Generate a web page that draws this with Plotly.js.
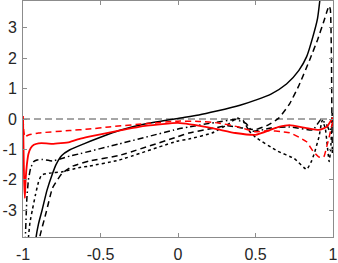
<!DOCTYPE html>
<html>
<head>
<meta charset="utf-8">
<script src="https://cdn.plot.ly/plotly-3.0.1.min.js"></script>
<style>html,body{margin:0;padding:0;background:#fff;}#chart{width:338px;height:263px;}</style>
</head>
<body>
<div id="chart"></div>
<script>
// Tick values / labels
const xTickVals = [-1, -0.5, 0, 0.5, 1];
const xTickText = ['-1', '-0.5', '0', '0.5', '1'];
const yTickVals = [-3, -2, -1, 0, 1, 2, 3];
const yTickText = ['-3', '-2', '-1', '0', '1', '2', '3'];

// Black solid
const xBlackSolid = [-0.925, -0.916, -0.9, -0.877, -0.845, -0.81, -0.787, -0.75, -0.7, -0.6, -0.5, -0.38, -0.2, 0, 0.135, 0.25, 0.4, 0.5, 0.6, 0.7, 0.78, 0.83, 0.87, 0.9, 0.915, 0.925];
const yBlackSolid = [-4.5, -3.9, -3.45, -3.0, -2.34, -1.8, -1.5, -1.2, -1.02, -0.8, -0.6, -0.38, -0.15, 0.02, 0.13, 0.26, 0.45, 0.62, 0.82, 1.15, 1.6, 2.05, 2.7, 3.3, 3.9, 4.4];

// Black dashed
const xBlackDash = [-0.905, -0.893, -0.85, -0.81, -0.75, -0.68, -0.574, -0.38, 0, 0.07, 0.2, 0.32, 0.42, 0.5, 0.58, 0.65, 0.72, 0.78, 0.85, 0.9, 0.94, 0.965, 0.975, 0.983, 0.99, 0.993, 0.996];
const yBlackDash = [-4.5, -3.9, -3.06, -2.27, -1.8, -1.55, -1.38, -1.2, -0.58, -0.46, -0.33, -0.22, -0.3, -0.35, -0.2, 0.03, 0.5, 1.1, 1.95, 2.6, 3.2, 3.6, 3.72, 3.6, 2.0, 0.0, -1.2];

// Black dash-dot
const xBlackDashDot = [-0.992, -0.985, -0.975, -0.965, -0.95, -0.93, -0.91, -0.88, -0.81, -0.75, -0.7, -0.64, -0.38, 0, 0.07, 0.22, 0.37, 0.44, 0.48, 0.6, 0.72, 0.87, 0.92, 0.955, 0.98, 1.0];
const yBlackDashDot = [-4.5, -3.9, -2.6, -2.0, -1.6, -1.4, -1.35, -1.33, -1.38, -1.3, -1.22, -1.15, -0.82, -0.33, -0.26, -0.13, -0.02, -0.15, -0.4, -0.3, -0.26, -0.36, -0.03, -0.15, -0.4, -0.1];

// Black dotted
const xBlackDot = [-0.972, -0.965, -0.955, -0.94, -0.92, -0.9, -0.88, -0.83, -0.75, -0.64, -0.574, -0.38, 0, 0.07, 0.22, 0.33, 0.38, 0.42, 0.46, 0.5, 0.64, 0.75, 0.83, 0.86, 0.88, 0.91, 0.93, 0.95, 0.975, 0.985, 0.995];
const yBlackDot = [-4.5, -3.9, -3.4, -3.0, -2.5, -2.07, -1.84, -1.78, -1.74, -1.6, -1.55, -1.35, -0.72, -0.66, -0.46, -0.15, 0.03, -0.05, -0.4, -0.6, -1.05, -1.3, -1.66, -1.4, -1.12, -0.58, -0.05, -0.3, -1.4, -1.0, 0.2];

// Red solid
const xRedSolid = [-1.0, -0.997, -0.993, -0.988, -0.983, -0.975, -0.965, -0.95, -0.93, -0.9, -0.85, -0.81, -0.7, -0.64, -0.574, -0.38, -0.2, 0, 0.22, 0.37, 0.5, 0.6, 0.65, 0.72, 0.83, 0.91, 0.96, 0.99, 1.0];
const yRedSolid = [0.1, -0.8, -2.0, -2.6, -2.0, -1.5, -1.15, -0.95, -0.85, -0.8, -0.8, -0.82, -0.76, -0.66, -0.58, -0.38, -0.22, -0.13, -0.3, -0.46, -0.52, -0.35, -0.26, -0.2, -0.3, -0.36, -0.26, -0.03, 0.05];

// Red dashed
const xRedDash = [-1.0, -0.995, -0.988, -0.975, -0.96, -0.9, -0.7, -0.574, -0.445, -0.2, 0, 0.135, 0.26, 0.39, 0.5, 0.59, 0.67, 0.72, 0.78, 0.83, 0.87, 0.91, 0.94, 0.96, 0.975, 0.99, 1.0];
const yRedDash = [0.0, -0.4, -0.6, -0.55, -0.52, -0.46, -0.38, -0.33, -0.26, -0.15, -0.07, -0.08, -0.13, -0.26, -0.42, -0.38, -0.42, -0.45, -0.6, -0.75, -1.05, -1.25, -1.25, -0.9, -0.6, -0.26, -0.1];

// Zero reference line
const xZero = [-1, 1];
const yZero = [0, 0];

const traces = [
  {x: xZero, y: yZero, mode: 'lines', line: {color: '#4d4d4d', width: 1, dash: '7px,4px'}},
  {x: xBlackDot, y: yBlackDot, mode: 'lines', line: {color: '#000', width: 1.5, dash: 'dot', shape: 'spline', smoothing: 0.4}},
  {x: xBlackDashDot, y: yBlackDashDot, mode: 'lines', line: {color: '#000', width: 1.5, dash: '6px,3px,1.5px,3px', shape: 'spline', smoothing: 0.4}},
  {x: xBlackDash, y: yBlackDash, mode: 'lines', line: {color: '#000', width: 1.5, dash: '6px,4px', shape: 'spline', smoothing: 0.4}},
  {x: xBlackSolid, y: yBlackSolid, mode: 'lines', line: {color: '#000', width: 1.5, shape: 'spline', smoothing: 0.6}},
  {x: xRedDash, y: yRedDash, mode: 'lines', line: {color: '#ff0000', width: 1.5, dash: '6px,4px', shape: 'spline', smoothing: 0.4}},
  {x: xRedSolid, y: yRedSolid, mode: 'lines', line: {color: '#ff0000', width: 1.8, shape: 'spline', smoothing: 0.4}}
];

const axisCommon = {
  showgrid: false, zeroline: false, showline: true, mirror: 'ticks',
  linecolor: '#8c8c8c', linewidth: 1,
  ticks: 'inside', ticklen: 4, tickcolor: '#8c8c8c', tickwidth: 1,
  tickfont: {family: 'Liberation Sans, Arial, sans-serif', size: 16, color: '#262626'},
  tickmode: 'array'
};

const layout = {
  width: 338, height: 263,
  margin: {l: 23, r: 5, t: 1, b: 26, pad: 0},
  paper_bgcolor: '#fff', plot_bgcolor: '#fff',
  showlegend: false,
  xaxis: Object.assign({}, axisCommon, {range: [-1, 1], tickvals: xTickVals, ticktext: xTickText, ticklabelstandoff: 3}),
  yaxis: Object.assign({}, axisCommon, {range: [-3.88, 3.88], tickvals: yTickVals, ticktext: yTickText, ticklabelstandoff: 2})
};

Plotly.newPlot('chart', traces, layout, {staticPlot: true, displayModeBar: false});
</script>
</body>
</html>
